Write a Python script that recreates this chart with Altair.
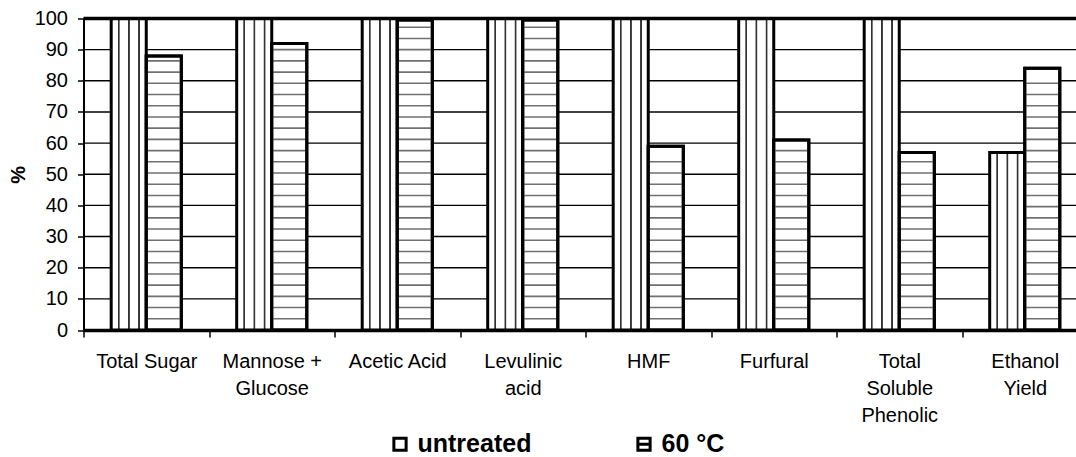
import json
import altair as alt
import pandas as pd

# ---------------- data ----------------
categories = ["Total Sugar", "Mannose + Glucose", "Acetic Acid", "Levulinic acid",
              "HMF", "Furfural", "Total Soluble Phenolic", "Ethanol Yield"]
groups = ["untreated", "60 °C"]
untreated = [100, 100, 100, 100, 100, 100, 100, 57]
heated_60 = [88, 92, 99.5, 99.5, 59, 61, 57, 84]
y_ticks = [0, 10, 20, 30, 40, 50, 60, 70, 80, 90, 100]
y_max = [100]

# label wrapping as in the reference
wrapped = {
    "Mannose + Glucose": ["Mannose +", "Glucose"],
    "Levulinic acid": ["Levulinic", "acid"],
    "Total Soluble Phenolic": ["Total", "Soluble", "Phenolic"],
    "Ethanol Yield": ["Ethanol", "Yield"],
}

# ---------------- tables ----------------
rows = []
for c, u, h in zip(categories, untreated, heated_60):
    rows.append({"category": c, "group": groups[0], "value": u})
    rows.append({"category": c, "group": groups[1], "value": h})
df = pd.DataFrame(rows)

# horizontal hatch of the "60 °C" bars (decoration pattern, step in data units)
stripe_step = 3.6
stripe_rows = []
for c, h in zip(categories, heated_60):
    k = 1
    while k * stripe_step < h - 1.5:
        stripe_rows.append({"category": c, "group": groups[1], "value": round(k * stripe_step, 2)})
        k += 1
stripes = pd.DataFrame(stripe_rows)
top_df = pd.DataFrame({"value": y_max})
grid_df = pd.DataFrame({"value": y_ticks[1:-1]})

FONT = "Liberation Sans"

label_expr = ""
for k, v in wrapped.items():
    label_expr += f"datum.value == {json.dumps(k)} ? {json.dumps(v)} : "
label_expr += "datum.value"

x_scale = alt.Scale(domain=categories, range=[0, 1004], paddingInner=0, paddingOuter=0)
off_scale = alt.Scale(domain=groups, paddingInner=0, paddingOuter=0.79)
y_scale = alt.Scale(domain=[0, 100], nice=False)

x_enc = alt.X(
    "category:N", scale=x_scale, sort=categories,
    axis=alt.Axis(
        title=None, labelAngle=0, labelFont=FONT, labelFontSize=20, labelColor="black",
        labelExpr=label_expr, labelLineHeight=27, labelPadding=14, labelLimit=0,
        tickBand="extent", tickSize=7, tickColor="black", tickWidth=1.5,
        domainColor="black", domainWidth=3.5, grid=False,
    ),
)
xoff_enc = alt.XOffset("group:N", scale=off_scale, sort=groups)
y_axis = alt.Axis(
    title="%", titleFont=FONT, titleFontSize=20, titleFontWeight="bold",
    titleColor="black", titlePadding=6,
    values=y_ticks, tickCount=11, grid=False,
    domainColor="black", domainWidth=2, tickColor="black", tickSize=6, tickWidth=1.5,
    labelFont=FONT, labelFontSize=20, labelColor="black", labelPadding=10,
    labelOverlap=False,
)
y_enc = alt.Y("value:Q", scale=y_scale, axis=y_axis)

vert_gradient = {
    "gradient": "linear", "x1": 0, "x2": 1, "y1": 0, "y2": 0,
    "stops": [
        {"offset": 0.0, "color": "white"},
        {"offset": 0.18, "color": "white"},
        {"offset": 0.19, "color": "#999999"},
        {"offset": 0.2, "color": "#333333"},
        {"offset": 0.23, "color": "#333333"},
        {"offset": 0.24, "color": "#999999"},
        {"offset": 0.25, "color": "white"},
        {"offset": 0.47, "color": "white"},
        {"offset": 0.48, "color": "#999999"},
        {"offset": 0.49, "color": "#333333"},
        {"offset": 0.52, "color": "#333333"},
        {"offset": 0.53, "color": "#999999"},
        {"offset": 0.54, "color": "white"},
        {"offset": 0.76, "color": "white"},
        {"offset": 0.77, "color": "#999999"},
        {"offset": 0.78, "color": "#333333"},
        {"offset": 0.81, "color": "#333333"},
        {"offset": 0.82, "color": "#999999"},
        {"offset": 0.83, "color": "white"},
        {"offset": 1.0, "color": "white"},
    ],
}

base = alt.Chart(df)

grid = alt.Chart(grid_df).mark_rule(color="black", strokeWidth=1.4).encode(y=y_enc)

bars_untreated = base.transform_filter(alt.datum.group == groups[0]).mark_bar(
    fill=vert_gradient, stroke="black", strokeWidth=3
).encode(x=x_enc, xOffset=xoff_enc, y=y_enc)

bars_60 = base.transform_filter(alt.datum.group == groups[1]).mark_bar(
    fill="white", stroke="black", strokeWidth=3
).encode(x=x_enc, xOffset=xoff_enc, y=y_enc)

hatch = alt.Chart(stripes).mark_tick(
    color="#333333", thickness=1.6, size=32, orient="horizontal"
).encode(x=x_enc, xOffset=xoff_enc, y=y_enc)

outline_60 = base.transform_filter(alt.datum.group == groups[1]).mark_bar(
    fillOpacity=0, stroke="black", strokeWidth=3
).encode(x=x_enc, xOffset=xoff_enc, y=y_enc)

top_rule = alt.Chart(top_df).mark_rule(
    color="black", strokeWidth=3.5
).encode(y=y_enc)

square = "M-1,-1H1V1H-1Z"
square_line = "M-1,-1H1V1H-1Z M-1,0H1"
legend_layer = base.transform_filter("false").mark_point(
    filled=False, color="black", strokeWidth=3, opacity=1
).encode(
    shape=alt.Shape(
        "group:N", sort=groups,
        scale=alt.Scale(domain=groups, range=[square, square_line]),
        legend=alt.Legend(
            title=None, orient="none", direction="horizontal",
            legendX=304, legendY=413, padding=0,
            symbolSize=150, symbolStrokeWidth=3, symbolStrokeColor="black",
            symbolFillColor="white", symbolOpacity=1,
            labelFont=FONT, labelFontSize=25, labelFontWeight="bold", labelColor="black",
            labelOffset=5, columnPadding=100, labelLimit=0,
        ),
    )
)

chart = alt.layer(
    grid, bars_untreated, bars_60, hatch, outline_60, top_rule, legend_layer
).properties(
    width=992.5, height=311.5,
    padding={"left": 83.5, "top": 18.5, "right": 0, "bottom": 127},
    autosize=alt.AutoSizeParams(type="none"),
    background="white",
).configure_view(stroke="transparent").configure(font=FONT)

chart.save("out.html", embed_options={"renderer": "svg", "actions": False})
